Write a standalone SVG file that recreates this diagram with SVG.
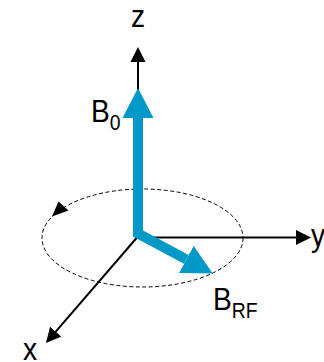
<svg xmlns="http://www.w3.org/2000/svg" width="324" height="362" viewBox="0 0 324 362">
<style>
.lbl{font-family:"Liberation Sans",Arial,sans-serif;font-size:32px;fill:#000}
.sub{font-family:"Liberation Sans",Arial,sans-serif;font-size:22px;fill:#000}
.axis{stroke:#000;stroke-width:2;fill:none}
.blue{stroke:#0099C8;stroke-width:10;fill:none;stroke-linejoin:miter}
</style>
<defs>
<marker id="ah" markerUnits="userSpaceOnUse" markerWidth="16" markerHeight="16" viewBox="0 -8 16 16" refX="5" refY="0" orient="auto">
<path d="M0,-7.5 L15,0 L0,7.5 z" fill="#000"/>
</marker>
<marker id="bh" markerUnits="userSpaceOnUse" markerWidth="32" markerHeight="34" viewBox="0 -17 32 34" refX="0" refY="0" orient="auto-start-reverse">
<path d="M0,-15.5 L30,0 L0,15.5 z" fill="#0099C8"/>
</marker>
</defs>
<g id="circle">
<ellipse cx="142.5" cy="238" rx="100.5" ry="49" fill="none" stroke="#000" stroke-width="1" stroke-dasharray="4,2.5"/>
<path d="M52,216.5 L58.5,201.5 L68.5,210.5 z" fill="#000"/>
</g>
<g id="connectors">
<line class="axis" x1="138" y1="237.5" x2="138" y2="57" marker-end="url(#ah)"/>
<line class="axis" x1="137" y1="237.5" x2="301" y2="237.5" marker-end="url(#ah)"/>
<line class="axis" x1="137" y1="237.5" x2="52.5" y2="335.4" marker-end="url(#ah)"/>
<polyline class="blue" points="138,118 138,233.5 186.3,259.4" marker-start="url(#bh)" marker-end="url(#bh)"/>
</g>
<g id="z-label"><text class="lbl" transform="translate(131,27) scale(0.88,1)">z</text></g>
<g id="y-label"><text class="lbl" transform="translate(311,246) scale(0.88,1)">y</text></g>
<g id="x-label"><text class="lbl" transform="translate(23,360) scale(0.88,1)">x</text></g>
<g id="B0-label"><text class="lbl" transform="translate(91,122) scale(0.88,1)">B<tspan class="sub" dy="8">0</tspan></text></g>
<g id="BRF-label"><text class="lbl" transform="translate(213,310) scale(0.88,1)">B<tspan class="sub" dy="8">RF</tspan></text></g>
</svg>
